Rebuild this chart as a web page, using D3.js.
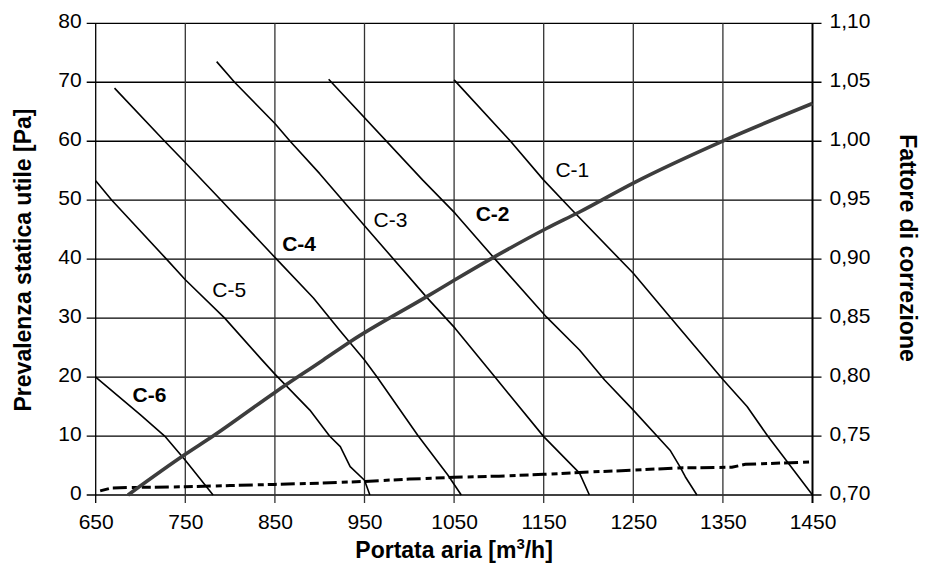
<!DOCTYPE html>
<html>
<head>
<meta charset="UTF-8">
<title>Prevalenza</title>
<script src="https://cdnjs.cloudflare.com/ajax/libs/d3/7.8.5/d3.min.js"></script>
<style>
  body { margin: 0; background: #fff; }
  svg { font-family: "Liberation Sans", Arial, sans-serif; }
</style>
</head>
<body>
<svg id="chart"></svg>
<script>

// air flow ticks [m3/h], pressure ticks [Pa], correction factor ticks
var xTicks = [650, 750, 850, 950, 1050, 1150, 1250, 1350, 1450]
var yTicks = [0, 10, 20, 30, 40, 50, 60, 70, 80]
var fTicks = [0.70, 0.75, 0.80, 0.85, 0.90, 0.95, 1.00, 1.05, 1.10]

// fan curves: portata (m3/h) / prevalenza (Pa)
var c1Q = [1050, 1113, 1150, 1180, 1250, 1291, 1350, 1377, 1400, 1450]
var c1P = [70.4, 60, 53.4, 48.6, 37.6, 30.2, 19.6, 15, 10, 0]

var c2Q = [910, 1015, 1051, 1094, 1153, 1190, 1218, 1250, 1291, 1302, 1308, 1321]
var c2P = [70.5, 53.4, 47.8, 40.3, 30.2, 24.6, 19.5, 14.4, 7.6, 4.8, 3.1, 0]

var c3Q = [785, 805, 850, 867, 900, 951, 1019, 1051, 1094, 1150, 1190, 1201]
var c3P = [73.5, 70, 63, 60, 54.5, 45.5, 33.6, 28.3, 20.3, 9.9, 3.7, 0]

var c4Q = [671, 727, 750, 790, 850, 893, 922, 950, 964, 1010, 1043, 1058]
var c4P = [69, 60, 56.4, 50, 40.3, 33.4, 28, 22.9, 20, 10, 3.4, 0]

var c5Q = [650, 668, 729, 750, 794, 835, 850, 889, 911, 923, 934, 950, 956]
var c5P = [53.3, 50, 40, 36.5, 30, 23, 20.5, 14.4, 10, 8.2, 4.8, 2.5, 0]

var c6Q = [650, 700, 727, 750, 781]
var c6P = [20, 13.6, 10, 5.9, 0]

var curveNames = ["C-1", "C-2", "C-3", "C-4", "C-5", "C-6"]

// correction factor curve (right axis)
var fattQ = [686, 750, 781, 850, 904, 934, 1019, 1051, 1094, 1153, 1190, 1250, 1351, 1450]
var fattV = [0.700, 0.7345, 0.750, 0.787, 0.8145, 0.830, 0.868, 0.8825, 0.9015, 0.926, 0.940, 0.9645, 1.0005, 1.032]

// dashed line near the bottom (left axis)
var dashQ = [655, 668, 700, 750, 800, 850, 900, 950, 1000, 1050, 1100, 1150, 1200, 1250, 1300, 1360, 1375, 1450]
var dashP = [0.7, 1.2, 1.3, 1.4, 1.6, 1.8, 2.0, 2.3, 2.7, 3.0, 3.2, 3.5, 3.9, 4.2, 4.6, 4.7, 5.2, 5.6]

function zip(q, p) {
    return q.map(function (d, i) { return { q: d, p: p[i] } })
}

function drawChart() {
    var svgWidth = 927, svgHeight = 569
    var margin = { top: 23.3, right: 114.5, bottom: 74, left: 95.7 }
    var width = svgWidth - margin.left - margin.right
    var height = svgHeight - margin.top - margin.bottom

    var svg = d3.select("#chart")
        .attr("width", svgWidth)
        .attr("height", svgHeight)

    var g = svg.append("g")
        .attr("transform", "translate(" + margin.left + "," + margin.top + ")")

    var x = d3.scaleLinear().domain([650, 1450]).range([0, width])
    var y = d3.scaleLinear().domain([0, 80]).range([height, 0])
    var f = d3.scaleLinear().domain([0.70, 1.10]).range([height, 0])

    var comma = d3.formatLocale({ decimal: ",", thousands: ".", grouping: [3], currency: ["", "€"] }).format(".2f")

    // grid
    g.append("g").selectAll("line").data(yTicks).join("line")
        .attr("x1", -9).attr("x2", width + 9)
        .attr("y1", function (d) { return y(d) }).attr("y2", function (d) { return y(d) })
        .attr("stroke", "#000").attr("stroke-width", 1.3)

    g.append("g").selectAll("line").data(xTicks).join("line")
        .attr("x1", function (d) { return x(d) }).attr("x2", function (d) { return x(d) })
        .attr("y1", 0).attr("y2", height + 8)
        .attr("stroke", function (d, i) { return (i == 0 || i == xTicks.length - 1) ? "#000" : "#333" })
        .attr("stroke-width", function (d, i) { return i == xTicks.length - 1 ? 2 : 1.3 })

    // axes labels
    var ax = g.append("g")
        .attr("transform", "translate(0," + height + ")")
        .call(d3.axisBottom(x).tickValues(xTicks).tickFormat(d3.format("d")).tickSize(0).tickPadding(18))
    var ay = g.append("g")
        .call(d3.axisLeft(y).tickValues(yTicks).tickSize(0).tickPadding(14))
    var af = g.append("g")
        .attr("transform", "translate(" + width + ",0)")
        .call(d3.axisRight(f).tickValues(fTicks).tickFormat(comma).tickSize(0).tickPadding(17))

    ;[ax, ay, af].forEach(function (a) {
        a.select(".domain").remove()
        a.selectAll("text").attr("font-size", 21).attr("fill", "#000")
            .attr("font-family", "'Liberation Sans', Arial, sans-serif")
    })
    ay.selectAll("text").attr("dy", "0.21em")
    af.selectAll("text").attr("dy", "0.21em")
    ax.selectAll("text").attr("dy", "0.75em")

    // fan curves
    var line = d3.line()
        .x(function (d) { return x(d.q) })
        .y(function (d) { return y(d.p) })

    var curves = [zip(c1Q, c1P), zip(c2Q, c2P), zip(c3Q, c3P), zip(c4Q, c4P), zip(c5Q, c5P), zip(c6Q, c6P)]

    g.append("g").selectAll("path").data(curves).join("path")
        .attr("fill", "none")
        .attr("stroke", "#000")
        .attr("stroke-width", 1.6)
        .attr("stroke-linejoin", "round")
        .attr("d", line)

    // dashed line
    g.append("path")
        .datum(zip(dashQ, dashP))
        .attr("fill", "none")
        .attr("stroke", "#000")
        .attr("stroke-width", 3)
        .attr("stroke-dasharray", "9,4,14,5,6,4")
        .attr("d", line)

    // correction factor
    var fline = d3.line()
        .curve(d3.curveMonotoneX)
        .x(function (d) { return x(d.q) })
        .y(function (d) { return f(d.p) })

    g.append("path")
        .datum(zip(fattQ, fattV))
        .attr("fill", "none")
        .attr("stroke", "#3d3d3d")
        .attr("stroke-width", 3.6)
        .attr("d", fline)

    // curve labels
    var labelAt = [[1182, 54], [1093, 46.5], [979, 45.5], [877, 41.3], [799, 33.6], [710, 15.8]]
    var labelBold = [false, true, false, true, false, true]

    g.append("g").selectAll("text").data(curveNames).join("text")
        .attr("x", function (d, i) { return x(labelAt[i][0]) })
        .attr("y", function (d, i) { return y(labelAt[i][1]) })
        .attr("text-anchor", "middle")
        .attr("font-size", 21)
        .attr("font-weight", function (d, i) { return labelBold[i] ? "bold" : "normal" })
        .text(function (d) { return d })

    // titles
    var xt = svg.append("text")
        .attr("x", margin.left + width / 2)
        .attr("y", 558)
        .attr("text-anchor", "middle")
        .attr("font-size", 23)
        .attr("font-weight", "bold")
    xt.append("tspan").text("Portata aria [m")
    xt.append("tspan").attr("font-size", 15).attr("dy", -9).text("3")
    xt.append("tspan").attr("dy", 9).text("/h]")

    svg.append("text")
        .attr("transform", "translate(31,260) rotate(-90)")
        .attr("text-anchor", "middle")
        .attr("font-size", 23)
        .attr("font-weight", "bold")
        .text("Prevalenza statica utile [Pa]")

    svg.append("text")
        .attr("transform", "translate(900,248) rotate(90)")
        .attr("text-anchor", "middle")
        .attr("font-size", 23)
        .attr("font-weight", "bold")
        .text("Fattore di correzione")
}

drawChart()
</script>
</body>
</html>
